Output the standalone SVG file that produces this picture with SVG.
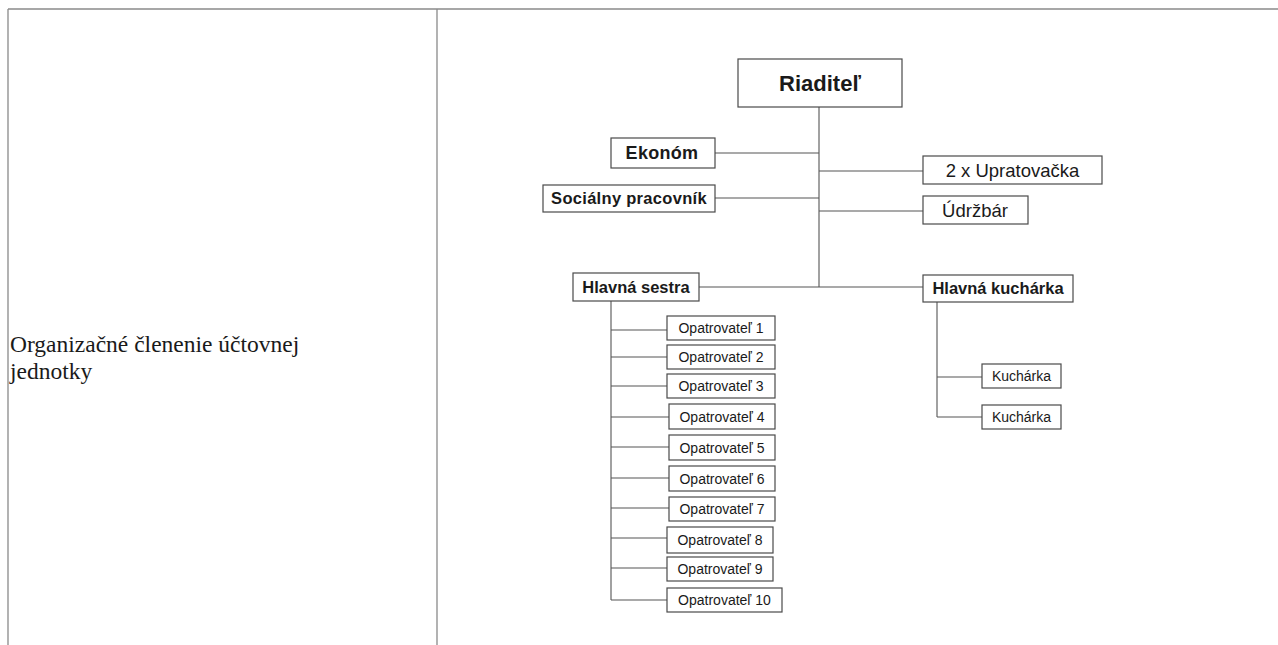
<svg xmlns="http://www.w3.org/2000/svg" width="1278" height="645" viewBox="0 0 1278 645">
<style>
.tbl{stroke:#8a8a8a;stroke-width:1.3;fill:none}
.box{fill:#fff;stroke:#4a4a4a;stroke-width:1.2}
.ln{stroke:#555;stroke-width:1.1;fill:none}
.t{font-family:"Liberation Sans",Arial,sans-serif;fill:#1a1a1a;text-anchor:middle}
.b{font-weight:bold}
.side{font-family:"Liberation Serif","Times New Roman",serif;font-size:23.5px;fill:#1a1a1a}
</style>
<rect width="1278" height="645" fill="#fff"/>
<g id="table">
<path class="tbl" d="M8 9H1278M8 9V645M437 9V645"/>
<text class="side" x="10" y="352">Organizačné členenie účtovnej</text>
<text class="side" x="10" y="379">jednotky</text>
</g>
<g id="connectors">
<path class="ln" d="M819 107V287M715 153H819M715 198H819M819 171H923M819 211H923M699 287H923"/>
<path class="ln" d="M611 301V600M611 330H667M611 357H667M611 386H667M611 417H669M611 447H669M611 478H669M611 508H669M611 538H667M611 568H667M611 600H667"/>
<path class="ln" d="M937 302V417M937 377H982M937 417H982"/>
</g>
<g id="riaditel"><rect class="box" x="738" y="59" width="164" height="48"/><text class="t b" x="820" y="91" font-size="22">Riaditeľ</text></g>
<g id="ekonom"><rect class="box" x="611" y="138" width="104" height="30"/><text class="t b" x="662" y="159" font-size="18" letter-spacing="0.3">Ekonóm</text></g>
<g id="socialny"><rect class="box" x="543" y="185" width="172" height="27"/><text class="t b" x="629" y="204" font-size="16.5" letter-spacing="0.3">Sociálny pracovník</text></g>
<g id="upratovacka"><rect class="box" x="923" y="156" width="179" height="28"/><text class="t" x="1012.5" y="177" font-size="18.5">2 x Upratovačka</text></g>
<g id="udrzbar"><rect class="box" x="923" y="196" width="105" height="28"/><text class="t" x="975" y="217" font-size="18.5">Údržbár</text></g>
<g id="hlavna-sestra"><rect class="box" x="573" y="273" width="126" height="28"/><text class="t b" x="636" y="293" font-size="16.5">Hlavná sestra</text></g>
<g id="hlavna-kucharka"><rect class="box" x="923" y="275" width="150" height="27"/><text class="t b" x="998" y="294" font-size="16.5">Hlavná kuchárka</text></g>
<g id="kucharka1"><rect class="box" x="982" y="364" width="79" height="24"/><text class="t" x="1021.5" y="381" font-size="14">Kuchárka</text></g>
<g id="kucharka2"><rect class="box" x="982" y="405" width="79" height="24"/><text class="t" x="1021.5" y="422" font-size="14">Kuchárka</text></g>
<g id="opat1"><rect class="box" x="667" y="316" width="108" height="24"/><text class="t" x="721" y="333" font-size="14">Opatrovateľ 1</text></g>
<g id="opat2"><rect class="box" x="667" y="345" width="108" height="24"/><text class="t" x="721" y="362" font-size="14">Opatrovateľ 2</text></g>
<g id="opat3"><rect class="box" x="667" y="374" width="108" height="24"/><text class="t" x="721" y="391" font-size="14">Opatrovateľ 3</text></g>
<g id="opat4"><rect class="box" x="669" y="404" width="106" height="25"/><text class="t" x="722" y="422" font-size="14">Opatrovateľ 4</text></g>
<g id="opat5"><rect class="box" x="669" y="435" width="106" height="25"/><text class="t" x="722" y="453" font-size="14">Opatrovateľ 5</text></g>
<g id="opat6"><rect class="box" x="669" y="466" width="106" height="25"/><text class="t" x="722" y="484" font-size="14">Opatrovateľ 6</text></g>
<g id="opat7"><rect class="box" x="669" y="497" width="106" height="24"/><text class="t" x="722" y="514" font-size="14">Opatrovateľ 7</text></g>
<g id="opat8"><rect class="box" x="667" y="527" width="106" height="26"/><text class="t" x="720" y="545" font-size="14">Opatrovateľ 8</text></g>
<g id="opat9"><rect class="box" x="667" y="557" width="106" height="24"/><text class="t" x="720" y="574" font-size="14">Opatrovateľ 9</text></g>
<g id="opat10"><rect class="box" x="667" y="588" width="115" height="24"/><text class="t" x="724.5" y="605" font-size="14">Opatrovateľ 10</text></g>
</svg>
